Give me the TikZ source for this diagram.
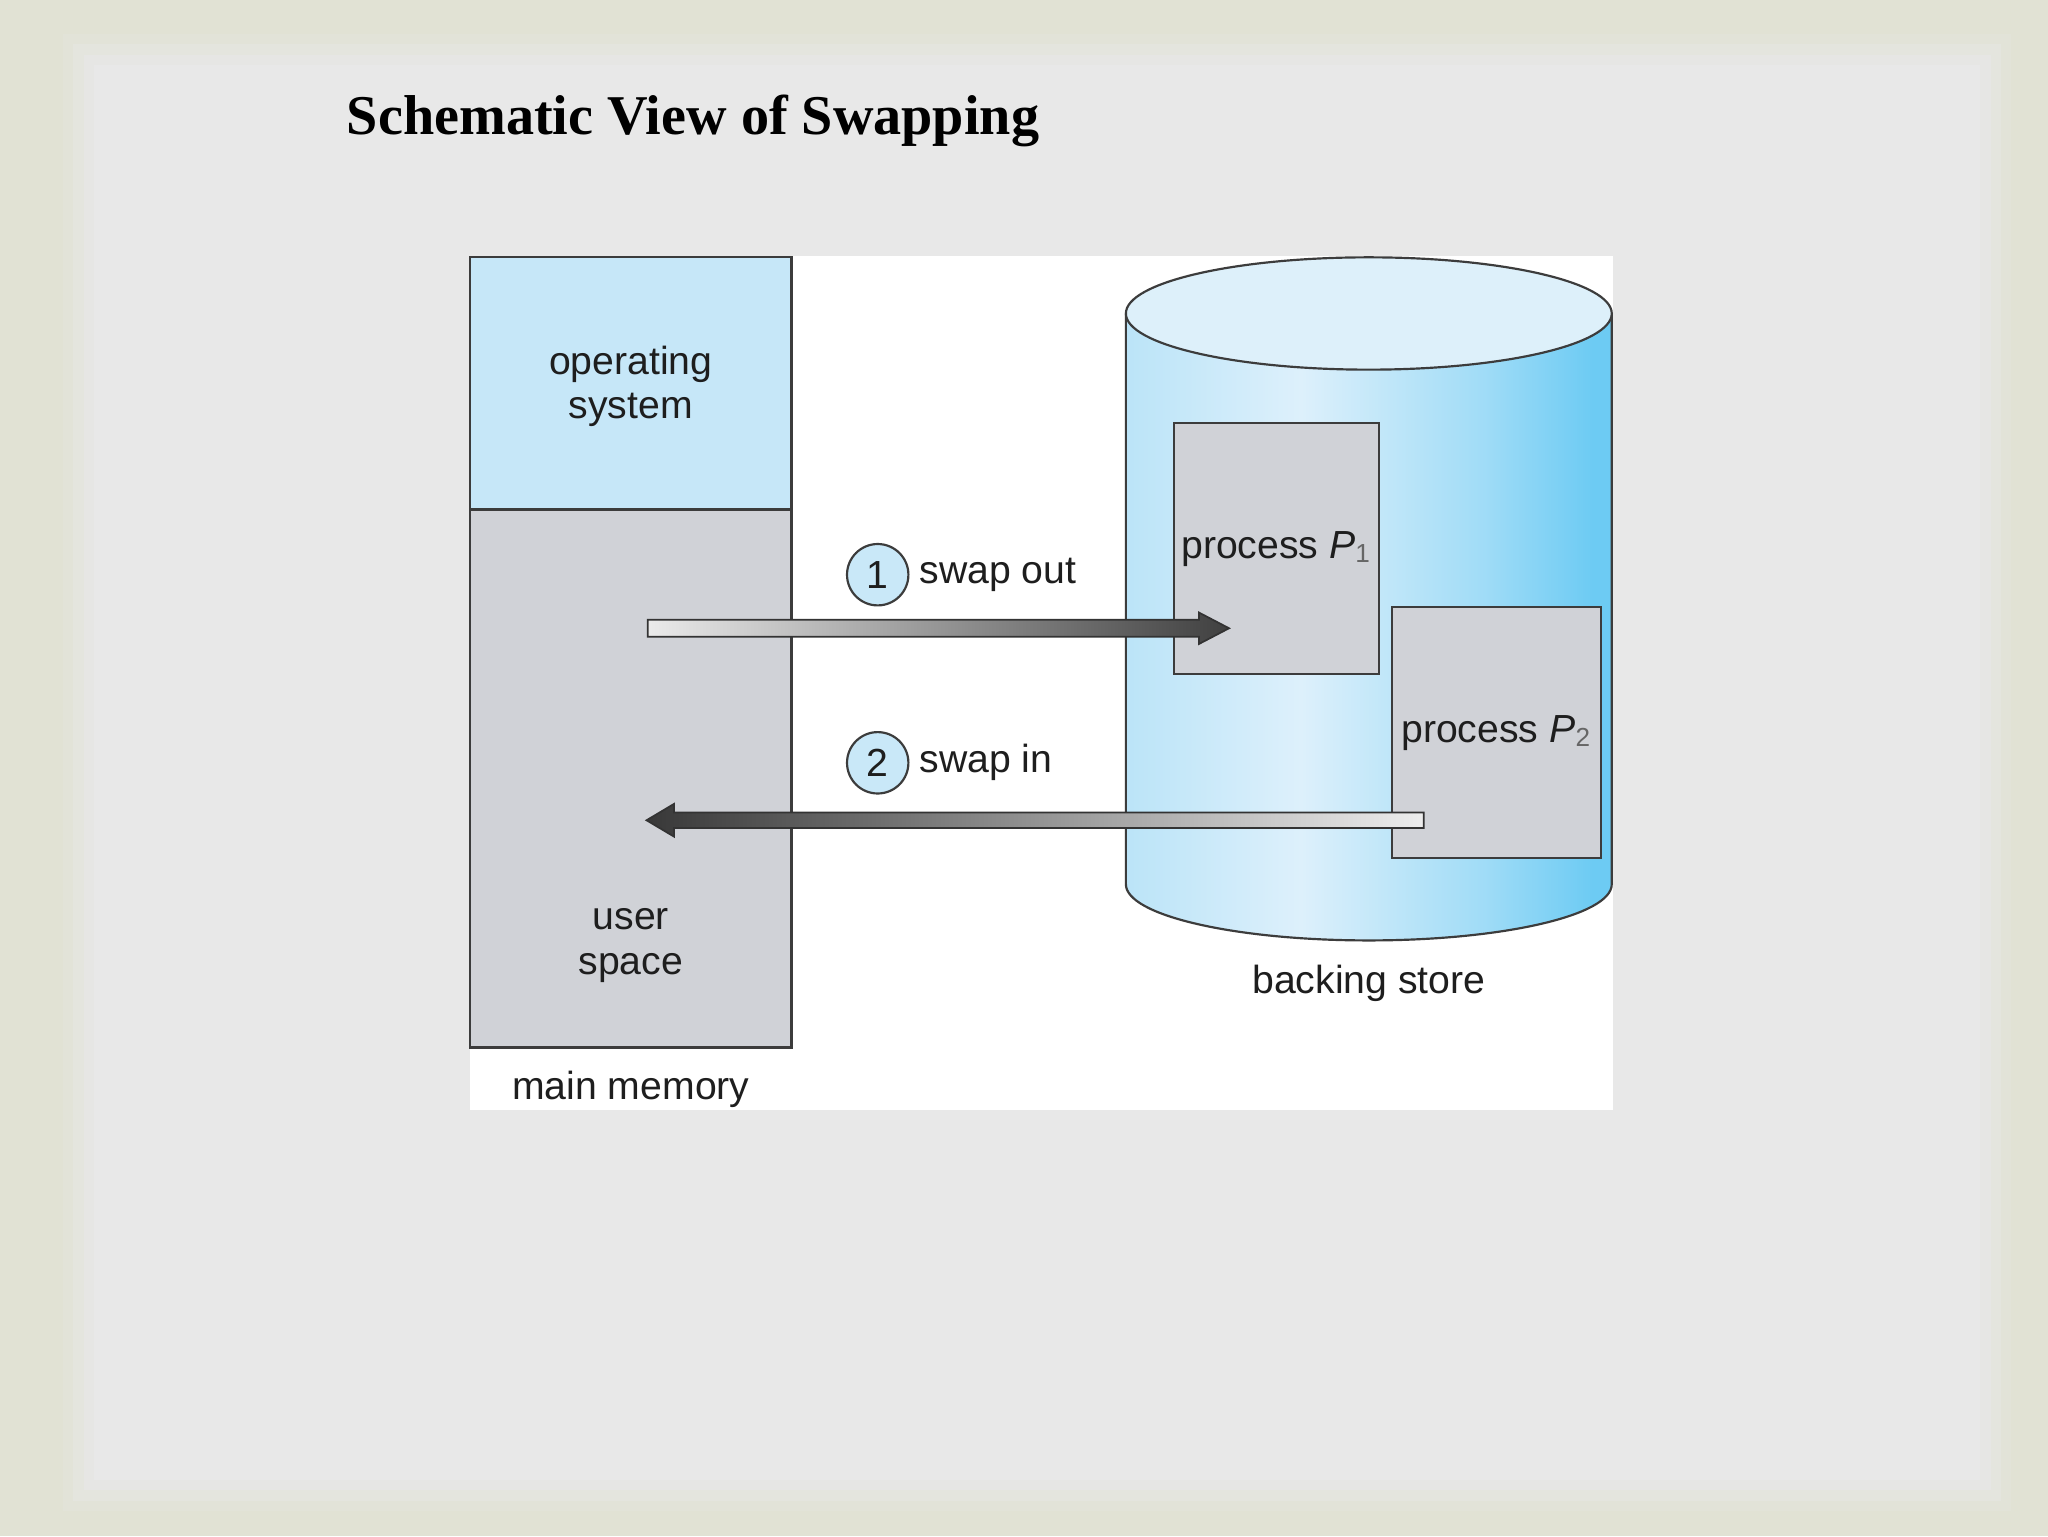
\documentclass[tikz,border=0pt]{standalone}
\usepackage{fontspec}
\setmainfont{Liberation Serif}
\setsansfont{Liberation Sans}
\usepackage{tikz}
\usetikzlibrary{positioning,calc}

\definecolor{slidebg}{HTML}{E1E2D4}
\definecolor{slidein}{HTML}{E8E8E8}
\definecolor{osblue}{HTML}{C6E7F8}
\definecolor{boxgray}{HTML}{D0D2D7}
\definecolor{edgegray}{HTML}{3C3C3C}
\definecolor{txtdark}{HTML}{1E1E1E}
\definecolor{cylL}{HTML}{BBE4F8}
\definecolor{cylM}{HTML}{DDF0FB}
\definecolor{cylR}{HTML}{6DCBF3}
\definecolor{cyltop}{HTML}{DDF0FA}
\definecolor{numblue}{HTML}{C9E8F8}

\pgfdeclarehorizontalshading{cylshade}{100bp}{color(0bp)=(cylL); color(25bp)=(cylL); color(43bp)=(cylM); color(62bp)=(cylM!45!cylR); color(73bp)=(cylR); color(100bp)=(cylR)}

\begin{document}
\begin{tikzpicture}[x=0.3pt,y=-0.3pt,
	font=\sffamily\fontsize{9}{10.2}\selectfont, text=txtdark,
	memblock/.style={draw=edgegray, line width=0.5pt, inner sep=0pt, minimum width=73.8pt, align=center},
	procbox/.style={draw=edgegray, fill=boxgray, line width=0.5pt, inner sep=0pt, minimum width=47.1pt, minimum height=57.6pt},
	stepnum/.style={circle, draw=edgegray, fill=numblue, line width=0.5pt, minimum size=14.1pt, inner sep=0pt},
	lbl/.style={align=center},
	arrowbody/.style={draw=black!80, line width=0.4pt}]
	\useasboundingbox (0,0) rectangle (1568,1176);
	% slide background
	\fill[slidebg] (0,0) rectangle (1568,1176);
	\foreach \d/\o in {24/0.2, 16/0.4, 8/0.65, 0/1}
		\fill[slidein, opacity=\o] (72-\d,50-\d) rectangle (1516+\d,1133+\d);
	\node[anchor=base west, inner sep=0pt, font=\rmfamily\bfseries\fontsize{12.9}{15}\selectfont, text=black] (title) at (265,103) {Schematic View of Swapping};
	\fill[white] (360,196) rectangle (1235,850);
	% main memory
	\node[memblock, fill=osblue, minimum height=57.9pt] (os) at (483,293.5) {};
	\node[lbl] (oslbl) at (483,296) {operating\\system};
	\node[memblock, fill=boxgray, minimum height=123.6pt] (user) at (483,596) {};
	\node[lbl] (userlbl) at (483,724) {user\\space};
	\node[lbl] (mainlbl) at (483,834) {main memory};
	% backing store
	\shade[shading=cylshade] (862,240) -- (862,677) arc[start angle=180, end angle=360, x radius=55.8pt, y radius=12.9pt] -- (1234,240) -- cycle;
	\draw[edgegray, line width=0.5pt] (862,240) -- (862,677) arc[start angle=180, end angle=360, x radius=55.8pt, y radius=12.9pt] -- (1234,240);
	\draw[edgegray, fill=cyltop, line width=0.5pt] (1048,240) ellipse[x radius=55.8pt, y radius=12.9pt];
	\node[lbl] (storelbl) at (1048,753) {backing store};
	\node[procbox] (p1) at (977.5,420) {process {\itshape P}\textsubscript{\color{black!60}1}};
	\node[procbox, minimum width=48pt] (p2) at (1146,561) {process {\itshape P}\textsubscript{\color{black!60}2}};
	% swap arrows
	\coordinate (outA) at (496,481);
	\coordinate (outB) at (941,481);
	\shade[arrowbody, left color=black!8, right color=black!75] ($(outA)+(0,-6.5)$) -- ($(outB)+(-23,-6.5)$) -- ($(outB)+(-23,-12)$) -- (outB) -- ($(outB)+(-23,12)$) -- ($(outB)+(-23,6.5)$) -- ($(outA)+(0,6.5)$) -- cycle;
	\coordinate (inA) at (1090,628);
	\coordinate (inB) at (495,628);
	\shade[arrowbody, left color=black!78, right color=black!7] ($(inA)+(0,-6)$) -- ($(inB)+(21,-6)$) -- ($(inB)+(21,-12.5)$) -- (inB) -- ($(inB)+(21,12.5)$) -- ($(inB)+(21,6)$) -- ($(inA)+(0,6)$) -- cycle;
	\node[stepnum] (n1) at (672,440) {1};
	\node[right=-1.2pt of n1] (outlbl) {swap out};
	\node[stepnum] (n2) at (672,584) {2};
	\node[right=-1.2pt of n2] (inlbl) {swap in};
\end{tikzpicture}
\end{document}
